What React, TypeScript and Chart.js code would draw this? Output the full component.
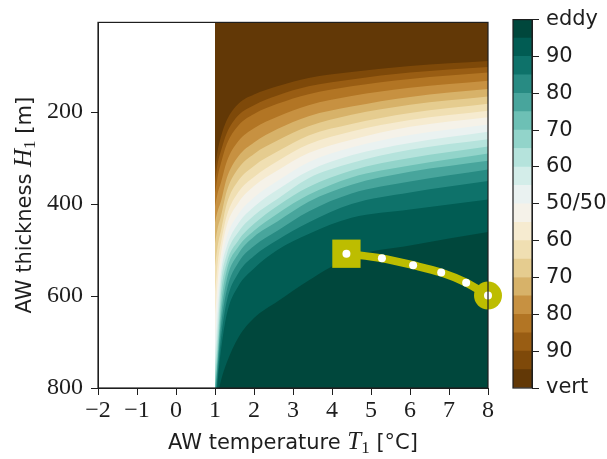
import React, { useEffect, useRef } from 'react';
import { Chart, registerables } from 'chart.js';
Chart.register(...registerables);

// ---- data ----
const T_SAMPLES = [1.0, 1.03, 1.08, 1.15, 1.3, 1.6, 2.0, 2.6, 3.4, 4.5, 6.0, 8.0];
// AW thickness H [m] of the contour boundaries (eddy share 5 %, 10 %, ..., 95 %)
const H_EDDY_05 = [325, 305, 278, 254, 218, 182, 162, 144, 126, 113, 100, 89];
const H_EDDY_10 = [350, 333, 306, 285, 246, 207, 185, 164, 144, 129, 114, 102];
const H_EDDY_15 = [375, 360, 335, 312, 270, 229, 204, 182, 161, 144, 128, 114];
const H_EDDY_20 = [405, 392, 372, 354, 308, 263, 235, 210, 185, 165, 147, 132];
const H_EDDY_25 = [440, 428, 412, 395, 344, 296, 266, 237, 209, 188, 167, 150];
const H_EDDY_30 = [485, 470, 448, 427, 372, 322, 291, 262, 231, 206, 184, 166];
const H_EDDY_35 = [535, 515, 485, 459, 400, 349, 317, 286, 251, 226, 202, 182];
const H_EDDY_40 = [590, 565, 520, 485, 426, 374, 341, 307, 270, 242, 217, 197];
const H_EDDY_45 = [640, 612, 555, 509, 447, 397, 361, 327, 289, 260, 232, 211];
const H_EDDY_50 = [690, 655, 590, 533, 472, 422, 386, 350, 309, 277, 250, 227];
const H_EDDY_55 = [725, 695, 625, 552, 493, 442, 406, 369, 328, 294, 267, 243];
const H_EDDY_60 = [750, 725, 660, 575, 510, 461, 425, 389, 344, 311, 282, 259];
const H_EDDY_65 = [772, 748, 690, 600, 528, 479, 443, 404, 363, 327, 300, 275];
const H_EDDY_70 = [790, 768, 712, 625, 545, 493, 458, 421, 380, 342, 316, 290];
const H_EDDY_75 = [805, 782, 728, 648, 565, 508, 471, 438, 395, 358, 330, 306];
const H_EDDY_80 = [820, 795, 740, 670, 588, 527, 491, 458, 416, 377, 351, 325];
const H_EDDY_85 = [835, 812, 760, 695, 612, 550, 513, 478, 440, 400, 375, 350];
const H_EDDY_90 = [850, 830, 775, 720, 640, 578, 540, 500, 465, 430, 412, 390];
const H_EDDY_95 = [880, 860, 815, 785, 745, 690, 648, 612, 566, 515, 490, 461];

const BOUNDARIES = [
  H_EDDY_05, H_EDDY_10, H_EDDY_15, H_EDDY_20, H_EDDY_25, H_EDDY_30, H_EDDY_35,
  H_EDDY_40, H_EDDY_45, H_EDDY_50, H_EDDY_55, H_EDDY_60, H_EDDY_65, H_EDDY_70,
  H_EDDY_75, H_EDDY_80, H_EDDY_85, H_EDDY_90, H_EDDY_95,
];

// trajectory
const PATH_T = [4.37, 5.28, 6.08, 6.8, 7.44, 8.0];
const PATH_H = [508, 518, 533, 549, 571, 599];

// axes
const X_MIN = -2;
const X_MAX = 8;
const X_TICKS = [-2, -1, 0, 1, 2, 3, 4, 5, 6, 7, 8];
const Y_MIN = 5;
const Y_MAX = 800;
const Y_TICKS = [200, 400, 600, 800];

// colorbar
const CB_TICKS = [0, 2, 4, 6, 8, 10, 12, 14, 16, 18, 20];
const CB_LABELS = ['vert', '90', '80', '70', '60', '50/50', '60', '70', '80', '90', 'eddy'];
const N_BANDS = 20;

// ---- styles ----
const BRBG = [
  [84, 48, 5], [140, 81, 10], [191, 129, 45], [223, 194, 125], [246, 232, 195],
  [245, 245, 245], [199, 234, 229], [128, 205, 193], [53, 151, 143], [1, 102, 94], [0, 60, 48],
];
function brbg(t: number): string {
  const p = Math.max(0, Math.min(1, t)) * (BRBG.length - 1);
  const i = Math.min(Math.floor(p), BRBG.length - 2);
  const f = p - i;
  const c = BRBG[i].map((v, k) => Math.round(v + (BRBG[i + 1][k] - v) * f));
  return `rgb(${c[0]},${c[1]},${c[2]})`;
}
const BAND_COLORS = Array.from({ length: N_BANDS }, (_, i) => brbg((i + 0.5) / N_BANDS));
const OLIVE = '#bdbd00';
const INK = '#1e1e1e';
const SANS = 'DejaVu Sans';
const SERIF = 'Liberation Serif';

type Part = { text: string; font: string; dy?: number };
const X_TITLE: Part[] = [
  { text: 'AW temperature ', font: `21px "${SANS}"` },
  { text: 'T', font: `italic 25px "${SERIF}"` },
  { text: '1', font: `17px "${SERIF}"`, dy: 4 },
  { text: ' [°C]', font: `21px "${SANS}"` },
];
const Y_TITLE: Part[] = [
  { text: 'AW thickness ', font: `21px "${SANS}"` },
  { text: 'H', font: `italic 25px "${SERIF}"` },
  { text: '1', font: `17px "${SERIF}"`, dy: 4 },
  { text: ' [m]', font: `21px "${SANS}"` },
];

function drawRich(ctx: CanvasRenderingContext2D, parts: Part[], x: number, y: number, rot: boolean) {
  ctx.save();
  ctx.translate(x, y);
  if (rot) ctx.rotate(-Math.PI / 2);
  let total = 0;
  for (const p of parts) { ctx.font = p.font; total += ctx.measureText(p.text).width; }
  let cx = -total / 2;
  ctx.textAlign = 'left';
  ctx.textBaseline = 'alphabetic';
  ctx.fillStyle = INK;
  for (const p of parts) {
    ctx.font = p.font;
    ctx.fillText(p.text, cx, p.dy || 0);
    cx += ctx.measureText(p.text).width;
  }
  ctx.restore();
}

const framePlugin = {
  id: 'frame',
  afterDraw(chart: any) {
    const { ctx, chartArea: a } = chart;
    ctx.save();
    ctx.strokeStyle = INK;
    ctx.lineWidth = 1.2;
    ctx.strokeRect(a.left, a.top, a.right - a.left, a.bottom - a.top);
    ctx.restore();
  },
};

const titlePlugin = {
  id: 'titles',
  afterDraw(chart: any) {
    const { ctx, chartArea: a } = chart;
    drawRich(ctx, X_TITLE, (a.left + a.right) / 2, 449, false);
    drawRich(ctx, Y_TITLE, 31, (a.top + a.bottom) / 2, true);
  },
};

const fmt = (v: number) => (v < 0 ? '\u2212' + Math.abs(v) : String(v));

export default function App() {
  const mainRef = useRef<HTMLCanvasElement>(null);
  const cbRef = useRef<HTMLCanvasElement>(null);

  useEffect(() => {
    const datasets: any[] = [];
    datasets.push({
      data: T_SAMPLES.map((t) => ({ x: t, y: Y_MIN })),
      fill: { value: Y_MAX },
      backgroundColor: BAND_COLORS[0],
      borderColor: 'rgba(0,0,0,0)',
      borderWidth: 1,
      pointRadius: 0,
      order: 100,
    });
    BOUNDARIES.forEach((arr, i) => {
      datasets.push({
        data: T_SAMPLES.map((t, j) => ({ x: t, y: arr[j] })),
        fill: { value: Y_MAX },
        backgroundColor: BAND_COLORS[i + 1],
        borderColor: 'rgba(0,0,0,0)',
        borderWidth: 1,
        pointRadius: 0,
        cubicInterpolationMode: 'monotone',
        order: 99 - i,
      });
    });
    const path = PATH_T.map((t, i) => ({ x: t, y: PATH_H[i] }));
    datasets.push({
      data: path, borderColor: OLIVE, borderWidth: 8, pointRadius: 0, fill: false,
      cubicInterpolationMode: 'monotone', order: 4, clip: false,
    });
    datasets.push({
      data: [path[0]], showLine: false, fill: false, pointStyle: 'rect', pointRadius: 20,
      pointBackgroundColor: OLIVE, pointBorderWidth: 0, order: 3, clip: false,
    });
    datasets.push({
      data: [path[path.length - 1]], showLine: false, fill: false, pointStyle: 'circle', pointRadius: 14,
      pointBackgroundColor: OLIVE, pointBorderWidth: 0, order: 2, clip: false,
    });
    datasets.push({
      data: path, showLine: false, fill: false, pointStyle: 'circle', pointRadius: 4,
      pointBackgroundColor: '#ffffff', pointBorderWidth: 0, order: 1, clip: false,
    });

    const main = new Chart(mainRef.current!, {
      type: 'line',
      data: { datasets },
      options: {
        responsive: false,
        animation: false,
        devicePixelRatio: 1,
        events: [],
        layout: { padding: { left: 0, top: 15, right: 119, bottom: 0 } },
        plugins: { legend: { display: false }, tooltip: { enabled: false } },
        scales: {
          x: {
            type: 'linear', min: X_MIN, max: X_MAX,
            afterBuildTicks: (s: any) => { s.ticks = X_TICKS.map((v) => ({ value: v })); },
            ticks: { callback: (v: any) => fmt(Number(v)), font: { family: SERIF, size: 24 }, color: INK, padding: 1, maxRotation: 0, autoSkip: false },
            grid: { drawOnChartArea: false, drawTicks: true, tickLength: 7, color: INK },
            border: { display: true, color: INK },
            afterFit: (s: any) => { s.height = 71; },
          },
          y: {
            type: 'linear', min: Y_MIN, max: Y_MAX, reverse: true,
            afterBuildTicks: (s: any) => { s.ticks = Y_TICKS.map((v) => ({ value: v })); },
            ticks: { callback: (v: any) => fmt(Number(v)), font: { family: SERIF, size: 24 }, color: INK, padding: 8, autoSkip: false },
            grid: { drawOnChartArea: false, drawTicks: true, tickLength: 7, color: INK },
            border: { display: true, color: INK },
            afterFit: (s: any) => { s.width = 98; },
          },
        },
      } as any,
      plugins: [framePlugin, titlePlugin],
    });

    const cb = new Chart(cbRef.current!, {
      type: 'bar',
      data: {
        labels: [''],
        datasets: BAND_COLORS.map((c) => ({
          data: [1], backgroundColor: c, borderWidth: 0, barPercentage: 1, categoryPercentage: 1,
        })),
      },
      options: {
        responsive: false,
        animation: false,
        devicePixelRatio: 1,
        events: [],
        layout: { padding: { left: 13, top: 15, right: 0, bottom: 71 } },
        plugins: { legend: { display: false }, tooltip: { enabled: false } },
        scales: {
          x: { stacked: true, display: false },
          y: {
            stacked: true, position: 'right', min: 0, max: N_BANDS,
            afterBuildTicks: (s: any) => { s.ticks = CB_TICKS.map((v) => ({ value: v })); },
            ticks: {
              callback: (_v: any, i: number) => CB_LABELS[i],
              font: { family: SANS, size: 21 }, color: INK, padding: 7, autoSkip: false,
            },
            grid: { drawOnChartArea: false, drawTicks: true, tickLength: 7, color: INK },
            border: { display: true, color: INK },
            afterFit: (s: any) => { s.width = 75; },
          },
        },
      } as any,
      plugins: [framePlugin],
    });

    return () => { main.destroy(); cb.destroy(); };
  }, []);

  return (
    <div style={{ position: 'fixed', left: 0, top: 0, width: 607, height: 459, background: '#fff' }}>
      <canvas ref={mainRef} width={607} height={459} style={{ position: 'absolute', left: 0, top: 0 }} />
      <canvas ref={cbRef} width={107} height={459} style={{ position: 'absolute', left: 500, top: 0 }} />
    </div>
  );
}
